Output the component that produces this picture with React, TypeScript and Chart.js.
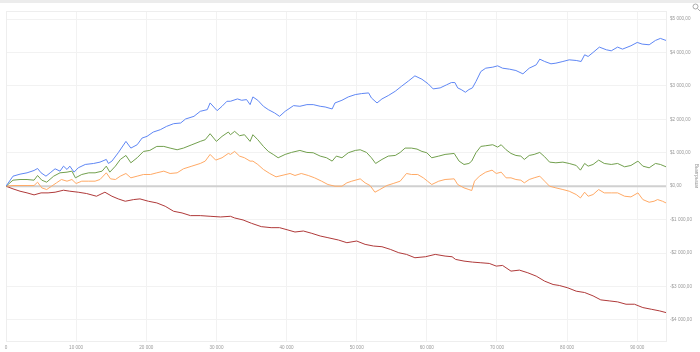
import React, { useEffect, useRef } from "react";
import { Chart, registerables } from "chart.js";
Chart.register(...registerables);

const blueX = [0, 1000, 2000, 3000, 4000, 4500, 5000, 5700, 6300, 7000, 7700, 8200, 8700, 9100, 9700, 10300, 11300, 12500, 13400, 14300, 14600, 15100, 16000, 17100, 17800, 18700, 19400, 20100, 21000, 22000, 22900, 23900, 24900, 25600, 26800, 27700, 28700, 29100, 30100, 30800, 31500, 32000, 33000, 33600, 34300, 34800, 35200, 35900, 36700, 37400, 38300, 39000, 39800, 41000, 41900, 42900, 43800, 44800, 45500, 46500, 46900, 47900, 48800, 49800, 50700, 51700, 52100, 52900, 53600, 54500, 55500, 56400, 57400, 58300, 59300, 60200, 60900, 61900, 62800, 63500, 64000, 64400, 64900, 65500, 66000, 66500, 67000, 67700, 68400, 69400, 70100, 70800, 71800, 72700, 73700, 74600, 75600, 76100, 76800, 77700, 78400, 79400, 80300, 81300, 82000, 82500, 83000, 83700, 84600, 85600, 86300, 87200, 87900, 89100, 90000, 90700, 91700, 92600, 93300, 94100];
const blueY = [0, 300, 360, 400, 470, 530, 400, 300, 400, 520, 450, 600, 500, 600, 420, 550, 650, 680, 720, 800, 680, 750, 1000, 1340, 1140, 1240, 1440, 1490, 1620, 1690, 1790, 1870, 1890, 2010, 2090, 2240, 2290, 2490, 2260, 2390, 2540, 2540, 2610, 2570, 2590, 2440, 2670, 2570, 2390, 2290, 2190, 2090, 2240, 2410, 2390, 2440, 2440, 2390, 2370, 2310, 2490, 2570, 2670, 2740, 2770, 2790, 2640, 2490, 2610, 2710, 2840, 2990, 3150, 3300, 3200, 3060, 2910, 2940, 3030, 3100, 3100, 2940, 2890, 2810, 2890, 2940, 3130, 3430, 3530, 3560, 3600, 3530, 3500, 3460, 3360, 3530, 3630, 3800, 3730, 3660, 3680, 3730, 3780, 3760, 3730, 3930, 3880, 4000, 4160, 4080, 4050, 4160, 4100, 4200, 4300, 4250, 4230, 4360, 4420, 4360];

const greenX = [0, 1000, 2000, 3000, 4000, 4500, 5100, 5800, 6800, 7700, 8700, 9400, 9900, 10800, 11800, 12700, 13700, 14300, 14800, 15600, 16300, 17100, 17800, 18700, 19600, 20500, 21500, 22500, 23400, 24400, 25300, 26500, 27700, 28400, 29100, 30000, 30800, 31700, 32000, 32600, 33300, 34000, 34800, 35200, 35900, 36700, 37400, 38100, 38800, 39800, 40700, 41900, 42900, 43800, 44800, 45700, 46500, 47100, 47900, 48800, 49800, 50500, 51400, 52100, 52700, 53600, 54500, 55500, 56200, 56900, 57800, 58600, 59300, 60000, 60700, 61700, 62600, 63900, 64600, 65300, 66000, 66400, 67000, 67700, 68400, 69400, 70100, 70600, 71300, 72000, 72700, 73400, 73900, 74600, 75300, 76100, 76800, 77500, 78400, 79400, 80300, 81300, 81900, 82500, 83000, 83700, 84500, 85300, 86300, 87200, 88200, 89100, 90100, 90800, 91700, 92600, 93300, 94100];
const greenY = [0, 180, 200, 200, 180, 320, 180, 120, 300, 400, 420, 450, 250, 350, 400, 400, 450, 600, 420, 600, 800, 920, 700, 850, 1040, 1070, 1190, 1190, 1140, 1090, 1140, 1240, 1340, 1390, 1570, 1340, 1490, 1620, 1540, 1640, 1510, 1540, 1340, 1540, 1390, 1190, 1040, 950, 850, 950, 1010, 1070, 1010, 1000, 900, 850, 750, 900, 850, 1000, 1070, 1090, 1010, 850, 680, 800, 900, 920, 1010, 1140, 1140, 1110, 1040, 1000, 850, 900, 950, 980, 750, 650, 680, 750, 1000, 1190, 1210, 1240, 1170, 1240, 1090, 980, 920, 900, 800, 920, 950, 1010, 880, 720, 700, 720, 680, 620, 480, 680, 600, 650, 780, 680, 650, 680, 580, 620, 750, 600, 550, 680, 650, 580];

const orangeX = [0, 1000, 3000, 4000, 4500, 5100, 5800, 6500, 7200, 7900, 8700, 9400, 10000, 10800, 11800, 12700, 13400, 14300, 14900, 15600, 16300, 17100, 17800, 18700, 19600, 20600, 21500, 22500, 23400, 24400, 25300, 26500, 27700, 28400, 29100, 29900, 30800, 31700, 32000, 32600, 33300, 34000, 34800, 35200, 35900, 36700, 37600, 38500, 39500, 40500, 41200, 42100, 43100, 44000, 45000, 45900, 46900, 47900, 48600, 49300, 50500, 51200, 51900, 52600, 53300, 54300, 55200, 56200, 57100, 57800, 58700, 59500, 60100, 60700, 61700, 62600, 63900, 64400, 65300, 66000, 66400, 66800, 67500, 68400, 69300, 69900, 70600, 71300, 72000, 72700, 73400, 73900, 74600, 75300, 76100, 76800, 77500, 78400, 79400, 80300, 81300, 81900, 82500, 83000, 83700, 84500, 85300, 86300, 87200, 88200, 89100, 90100, 90800, 91700, 92400, 92900, 93600, 94100];
const orangeY = [0, 20, 20, 20, 120, -50, -100, 0, 100, 200, 150, 200, 80, 150, 150, 150, 200, 400, 220, 200, 300, 380, 250, 300, 350, 350, 400, 450, 380, 400, 520, 600, 680, 750, 950, 780, 850, 980, 950, 1040, 900, 850, 750, 750, 650, 500, 380, 280, 330, 380, 320, 380, 320, 250, 150, 50, 0, 0, 100, 150, 220, 100, 20, -180, -100, 20, 80, 150, 380, 350, 350, 250, 150, 50, 150, 200, 220, 50, -50, -100, -130, 150, 300, 420, 480, 380, 420, 250, 250, 200, 180, 100, 200, 250, 300, 150, 0, -50, -100, -150, -250, -350, -180, -300, -250, -100, -200, -200, -200, -300, -320, -200, -400, -480, -450, -400, -450, -500];

const redX = [0, 1000, 2000, 3000, 4000, 5000, 6000, 7000, 8200, 9100, 10300, 11500, 12900, 14100, 15100, 16000, 17000, 18200, 19100, 20300, 21500, 22700, 23900, 25100, 26300, 27700, 29100, 30600, 32000, 32600, 33800, 35000, 36400, 37800, 39000, 40200, 41200, 42400, 43600, 44800, 45900, 47400, 48600, 50000, 51200, 52400, 53600, 54800, 56000, 57100, 58300, 59800, 61200, 62600, 63600, 64100, 65300, 66500, 67700, 68900, 69900, 70800, 72000, 73200, 74400, 75600, 76800, 78000, 78900, 80100, 81300, 82500, 83700, 84800, 86000, 87200, 88400, 89600, 90800, 92000, 93200, 94100];
const redY = [0, -80, -150, -200, -260, -200, -200, -180, -120, -150, -180, -220, -300, -180, -300, -380, -450, -400, -380, -450, -500, -600, -750, -800, -880, -880, -900, -920, -900, -950, -1010, -1110, -1210, -1240, -1240, -1310, -1370, -1340, -1410, -1490, -1540, -1610, -1690, -1640, -1740, -1790, -1810, -1890, -1990, -2040, -2140, -2110, -2040, -2090, -2110, -2190, -2240, -2270, -2290, -2310, -2390, -2370, -2540, -2510, -2590, -2690, -2840, -2940, -2970, -3040, -3140, -3180, -3280, -3400, -3430, -3460, -3530, -3530, -3630, -3680, -3730, -3780];

const xTickValues = [0, 10000, 20000, 30000, 40000, 50000, 60000, 70000, 80000, 90000];
const yTickValues = [-4000, -3000, -2000, -1000, 0, 1000, 2000, 3000, 4000, 5000];
const xMin = 0;
const xMax = 94100;
const yMin = -4630;
const yMax = 5240;
const axisTitle = "Выигрыши";

const toPoints = (xs: number[], ys: number[]) => xs.map((x, i) => ({ x, y: ys[i] }));

const groupNum = (n: number) => Math.round(Math.abs(n)).toString().replace(/\B(?=(\d{3})+(?!\d))/g, " ");
const fmtMoney = (v: number) => (v < 0 ? "-" : "") + "$" + groupNum(v) + ",00";

const decor = {
  id: "decor",
  beforeDraw(chart: any) {
    const { ctx, width } = chart;
    ctx.save();
    ctx.fillStyle = "#ffffff";
    ctx.fillRect(0, 0, width, chart.height);
    ctx.fillStyle = "#ececec";
    ctx.fillRect(0, 0, width, 3);
    ctx.restore();
  },
  beforeDatasetsDraw(chart: any) {
    const { ctx, chartArea: a } = chart;
    ctx.save();
    ctx.strokeStyle = "#eeeeee";
    ctx.lineWidth = 1;
    ctx.strokeRect(Math.round(a.left) + 0.5, Math.round(a.top) + 0.5, Math.round(a.right - a.left), Math.round(a.bottom - a.top));
    const y0 = chart.scales.y.getPixelForValue(0);
    ctx.strokeStyle = "#d0d0d0";
    ctx.lineWidth = 2;
    ctx.beginPath();
    ctx.moveTo(a.left, y0);
    ctx.lineTo(a.right, y0);
    ctx.stroke();
    ctx.restore();
  },
  afterDraw(chart: any) {
    const { ctx } = chart;
    ctx.save();
    ctx.strokeStyle = "#aaaaaa";
    ctx.lineWidth = 1;
    ctx.beginPath();
    ctx.arc(695.5, 6.5, 2.5, 0, Math.PI * 2);
    ctx.stroke();
    ctx.beginPath();
    ctx.moveTo(697.5, 8.5);
    ctx.lineTo(700, 11);
    ctx.stroke();
    ctx.restore();
  },
};

export default function App() {
  const ref = useRef<HTMLCanvasElement | null>(null);
  useEffect(() => {
    if (!ref.current) return;
    const mk = (label: string, xs: number[], ys: number[], color: string) => ({
      label,
      data: toPoints(xs, ys),
      borderColor: color,
      backgroundColor: color,
      borderWidth: 1,
      pointRadius: 0,
      tension: 0,
      fill: false,
    });
    const tickFont = { family: "'Liberation Sans', Arial, sans-serif", size: 4.6 };
    const chart = new Chart(ref.current, {
      type: "line",
      data: {
        datasets: [
          mk("blue", blueX, blueY, "#5f87f5"),
          mk("green", greenX, greenY, "#72a04e"),
          mk("orange", orangeX, orangeY, "#ffaa66"),
          mk("red", redX, redY, "#b03a3a"),
        ],
      },
      options: {
        animation: false,
        responsive: true,
        maintainAspectRatio: false,
        layout: { padding: { top: 11, left: 6, right: 0, bottom: 0 } },
        plugins: { legend: { display: false }, tooltip: { enabled: false } },
        scales: {
          x: {
            type: "linear",
            min: xMin,
            max: xMax,
            border: { display: false },
            grid: { color: "#f2f2f2", lineWidth: 1, drawTicks: false },
            afterBuildTicks: (s: any) => {
              s.ticks = xTickValues.map((v) => ({ value: v }));
            },
            ticks: {
              maxRotation: 0,
              autoSkip: false,
              padding: 4,
              color: "#9a9a9a",
              font: tickFont,
              callback: (v: any) => groupNum(Number(v)),
            },
            afterFit: (s: any) => {
              s.height = 11;
            },
          },
          y: {
            type: "linear",
            position: "right",
            min: yMin,
            max: yMax,
            border: { display: false },
            grid: { color: "#f2f2f2", lineWidth: 1, drawTicks: false },
            afterBuildTicks: (s: any) => {
              s.ticks = yTickValues.map((v) => ({ value: v }));
            },
            ticks: {
              autoSkip: false,
              padding: 4,
              color: "#9a9a9a",
              font: tickFont,
              callback: (v: any) => fmtMoney(Number(v)),
            },
            title: {
              display: true,
              text: axisTitle,
              color: "#9a9a9a",
              font: { family: "'Liberation Sans', Arial, sans-serif", size: 5 },
              padding: 1,
            },
            afterFit: (s: any) => {
              s.width = 34;
            },
          },
        },
      },
      plugins: [decor],
    } as any);
    return () => chart.destroy();
  }, []);
  return (
    <div style={{ position: "fixed", left: 0, top: 0, width: 700, height: 352, background: "#fff" }}>
      <canvas ref={ref} />
    </div>
  );
}
